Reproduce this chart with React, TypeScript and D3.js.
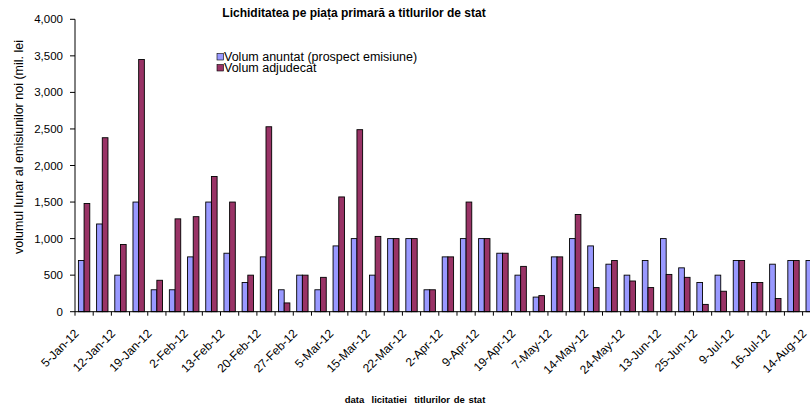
import React from "react";
import * as d3 from "d3";

const tickLabels = [
  "5-Jan-12", "12-Jan-12", "19-Jan-12", "2-Feb-12", "13-Feb-12", "20-Feb-12", "27-Feb-12",
  "5-Mar-12", "15-Mar-12", "22-Mar-12", "2-Apr-12", "9-Apr-12", "19-Apr-12", "7-May-12",
  "14-May-12", "24-May-12", "13-Jun-12", "25-Jun-12", "9-Jul-12", "16-Jul-12", "14-Aug-12",
];

// one value per auction (41 auctions, every second one labelled)
const volumAnuntat = [
  700, 1200, 500, 1500, 300, 300, 750, 1500, 800, 400,
  750, 300, 500, 300, 900, 1000, 500, 1000, 1000, 300,
  750, 1000, 1000, 800, 500, 200, 750, 1000, 900, 650,
  500, 700, 1000, 600, 400, 500, 700, 400, 650, 700,
  700,
];
const volumAdjudecat = [
  1480, 2380, 920, 3450, 430, 1270, 1300, 1850, 1500, 500,
  2530, 120, 500, 470, 1570, 2490, 1030, 1000, 1000, 300,
  750, 1500, 1000, 800, 620, 220, 750, 1330, 330, 700,
  420, 330, 510, 470, 100, 280, 700, 400, 180, 700,
  700,
];
const yTicks = [0, 500, 1000, 1500, 2000, 2500, 3000, 3500, 4000];
const seriesNames = ["Volum anuntat (prospect emisiune)", "Volum adjudecat"];
const seriesColors = ["#9999FF", "#993366"];

const W = 810;
const H = 411;
const FONT = "Arial, 'Liberation Sans', sans-serif";

export default function App() {
  const n = volumAnuntat.length;
  const band = 18.19;
  const x0 = 75;
  const x = d3
    .scaleBand<number>()
    .domain(d3.range(n))
    .range([x0, x0 + band * n])
    .padding(0);
  const y = d3.scaleLinear().domain([0, 4000]).range([311.7, 19.3]);
  const bw = x.bandwidth() / 3.2;
  const fmt = d3.format(",");
  const series = [volumAnuntat, volumAdjudecat];

  return (
    <svg width={W} height={H} style={{ display: "block", position: "absolute", left: 0, top: 0 }} fontFamily={FONT}>
      <rect width={W} height={H} fill="#fff" />
      <text x={354} y={17} textAnchor="middle" fontSize={12} fontWeight="bold">
        Lichiditatea pe piața primară a titlurilor de stat
      </text>

      {/* bars */}
      {series.map((vals, s) =>
        vals.map((v, i) => {
          const cx = (x(i) as number) + x.bandwidth() / 2;
          const bx = cx - bw + s * bw;
          return (
            <rect
              key={`${s}-${i}`}
              x={bx}
              y={y(v)}
              width={bw}
              height={y(0) - y(v)}
              fill={seriesColors[s]}
              stroke="#000"
              strokeWidth={0.9}
            />
          );
        })
      )}

      {/* y axis */}
      <line x1={x0} x2={x0} y1={y(4000)} y2={y(0)} stroke="#000" strokeWidth={1} />
      {yTicks.map((t) => (
        <g key={t}>
          <line x1={x0 - 5} x2={x0} y1={y(t)} y2={y(t)} stroke="#000" />
          <text x={x0 - 12} y={y(t)} dy="0.35em" textAnchor="end" fontSize={11.5}>
            {fmt(t)}
          </text>
        </g>
      ))}

      {/* x axis */}
      <line x1={x0} x2={W} y1={y(0)} y2={y(0)} stroke="#000" />
      {d3.range(n + 1).map((i) => (
        <line key={i} x1={x0 + band * i} x2={x0 + band * i} y1={y(0)} y2={y(0) + 4} stroke="#000" />
      ))}
      {tickLabels.map((lab, k) => {
        const i = k * 2;
        const cx = (x(i) as number) + x.bandwidth() / 2;
        return (
          <text
            key={lab}
            transform={`translate(${cx - 4.5},${y(0) + 22.5}) rotate(-45)`}
            textAnchor="end"
            fontSize={12}
          >
            {lab}
          </text>
        );
      })}

      {/* y title */}
      <text
        transform={`translate(22.5,147) rotate(-90)`}
        textAnchor="middle"
        fontSize={12.5}
      >
        volumul lunar al emisiunilor noi (mil. lei
      </text>

      {/* x title */}
      <text x={415} y={403} textAnchor="middle" fontSize={9.5} fontWeight="bold" wordSpacing={1} style={{ whiteSpace: "pre" }}>
        {"data  licitatiei  titlurilor de stat"}
      </text>

      {/* legend */}
      {seriesNames.map((name, s) => (
        <g key={name} transform={`translate(217,${57 + s * 11})`}>
          <rect x={0} y={-3.5} width={6.5} height={6.5} fill={seriesColors[s]} stroke="#000" strokeWidth={0.6} />
          <text x={7} y={0} dy="0.35em" fontSize={12.5}>
            {name}
          </text>
        </g>
      ))}
    </svg>
  );
}
